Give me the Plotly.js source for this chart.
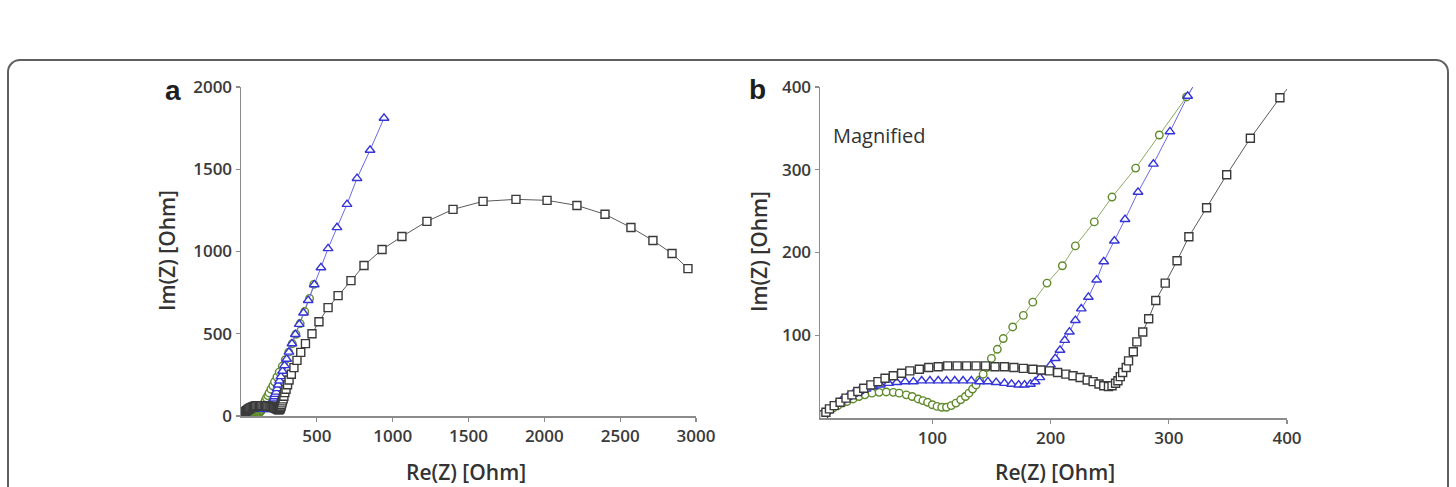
<!DOCTYPE html>
<html>
<head>
<meta charset="utf-8">
<script src="https://cdn.plot.ly/plotly-3.0.1.min.js"></script>
<style>
  html, body { margin: 0; padding: 0; background: #fff; }
  #wrap { position: relative; width: 1456px; height: 487px; overflow: hidden; }
  #chart { position: absolute; left: 0; top: 0; width: 1456px; height: 487px; }
  #frame {
    position: absolute; left: 7px; top: 59px; width: 1438px; height: 520px;
    border: 2px solid #5f5f5f; border-radius: 13px; pointer-events: none;
  }
</style>
</head>
<body>
<div id="wrap">
  <div id="chart"></div>
  <div id="frame"></div>
</div>
<script>
// Nyquist data, Re(Z) / Im(Z) in Ohm
const greyRe = [8,10,13,17,22,27,32,37,42,48,54,60,67,74,81,89,97,105,113,121,
  129,137,145,153,161,169,177,185,192,199,206,213,219,225,231,236,241,245,249,252,
  255,257,259,261,264,266,270,273,278,283,289,297,307,317,332,349,369,394,
  425,468,514,574,640,725,811,930,1061,1226,1398,1596,1813,2018,2215,2400,2571,2716,2842,2947];
const greyIm = [4,7,11,15,19,24,28,32,36,40,44,48,51,54,57,59,61,62,63,63,
  63,63,63,62,62,61,60,59,58,57,55,53,51,49,46,44,41,39,38,39,
  42,45,50,55,61,69,80,92,104,120,142,163,190,219,254,294,338,387,
  440,500,573,659,732,823,915,1012,1091,1183,1256,1305,1317,1311,1280,1226,1146,1067,988,896];

const blueRe = [7,9,12,15,19,23,28,33,38,44,50,56,63,70,77,84,91,98,105,112,
  119,126,133,140,147,154,161,167,173,178,183,187,191,195,200,204,208,212,216,221,
  226,232,239,245,254,263,274,287,301,316,336,358,384,412,443,483,527,574,633,699,
  765,851,943];
const blueIm = [3,6,9,13,17,21,25,29,32,35,38,40,42,43,44,44,45,45,45,45,
  45,45,45,44,44,43,42,41,40,40,41,44,49,56,64,72,82,94,104,118,
  132,146,167,189,214,240,273,307,346,389,440,496,558,627,703,799,902,1018,1146,1287,
  1445,1616,1811];

const greenRe = [6,9,12,16,20,24,28,33,38,43,49,55,61,67,72,78,83,88,92,96,
  100,104,108,112,116,120,124,128,131,134,137,140,143,146,150,155,160,168,177,185,
  197,210,221,237,252,272,292,315,338,362,390,420,452,480];
const greenIm = [3,6,9,12,15,18,20,23,26,28,30,31,31.5,31,30,28,26,23,21,19,
  16,14,13,13,15,18,22,26,30,35,40,46,53,61,72,83,96,110,124,140,
  163,184,208,237,267,302,342,388,440,497,562,635,715,800];

const panelAXTicks = [500, 1000, 1500, 2000, 2500, 3000];
const panelAYTicks = [0, 500, 1000, 1500, 2000];
const panelBXTicks = [100, 200, 300, 400];
const panelBYTicks = [100, 200, 300, 400];

const W = 1456, H = 487;
const px = v => v / W;
const py = v => 1 - v / H;

// drawn back to front: green, blue, grey
const styles = [
  {re: greenRe, im: greenIm, color: '#5f8a2a', line: '#8caa62', symbol: 'circle', size: 7.5},
  {re: blueRe, im: blueIm, color: '#3434d8', line: '#6a6ae6', symbol: 'triangle-up', size: 8.5},
  {re: greyRe, im: greyIm, color: '#3a3a3a', line: '#5a5a5a', symbol: 'square', size: 8}
];

const traces = [];
['', '2'].forEach(suffix => {
  styles.forEach(s => {
    traces.push({
      x: s.re, y: s.im, type: 'scatter', mode: 'lines+markers',
      xaxis: 'x' + suffix, yaxis: 'y' + suffix,
      line: {color: s.line, width: 1},
      marker: {symbol: s.symbol, size: s.size, color: '#ffffff',
               line: {color: s.color, width: 1.4}},
      showlegend: false, hoverinfo: 'skip'
    });
  });
});

const axisBase = {
  showline: true, linecolor: '#8c8c8c', linewidth: 1.5,
  ticks: 'outside', ticklen: 4, tickcolor: '#8c8c8c', tickwidth: 1.2,
  showgrid: false, zeroline: false, tickmode: 'array',
  tickfont: {family: 'Open Sans', size: 17, weight: 600, color: '#3a3a3a'},
  fixedrange: true
};

const titleFont = {family: 'Open Sans', size: 21, weight: 600, color: '#333'};

const layout = {
  width: W, height: H,
  margin: {l: 0, r: 0, t: 0, b: 0},
  paper_bgcolor: '#ffffff', plot_bgcolor: '#ffffff',
  xaxis: Object.assign({}, axisBase, {domain: [px(241), px(696)], range: [0, 3000],
    tickvals: panelAXTicks, anchor: 'y'}),
  yaxis: Object.assign({}, axisBase, {domain: [py(416), py(87)], range: [0, 2000],
    tickvals: panelAYTicks, anchor: 'x'}),
  xaxis2: Object.assign({}, axisBase, {domain: [px(820), px(1287)], range: [5, 400],
    tickvals: panelBXTicks, anchor: 'y2'}),
  yaxis2: Object.assign({}, axisBase, {domain: [py(418), py(87)], range: [0, 400],
    tickvals: panelBYTicks, anchor: 'x2'}),
  annotations: [
    {text: '<b>a</b>', x: px(173), y: py(91), xref: 'paper', yref: 'paper', showarrow: false,
     font: {family: 'Liberation Sans', size: 28, color: '#1e1e1e'}, xanchor: 'center', yanchor: 'middle'},
    {text: '<b>b</b>', x: px(757), y: py(90), xref: 'paper', yref: 'paper', showarrow: false,
     font: {family: 'Liberation Sans', size: 28, color: '#1e1e1e'}, xanchor: 'center', yanchor: 'middle'},
    {text: 'Magnified', x: px(831), y: py(136), xref: 'paper', yref: 'paper', showarrow: false,
     font: {family: 'Open Sans', size: 20, color: '#333'}, xanchor: 'left', yanchor: 'middle'},
    {text: 'Im(Z) [Ohm]', x: px(167), y: py(251), xref: 'paper', yref: 'paper', showarrow: false,
     textangle: -90, font: titleFont, xanchor: 'center', yanchor: 'middle'},
    {text: 'Im(Z) [Ohm]', x: px(759), y: py(252), xref: 'paper', yref: 'paper', showarrow: false,
     textangle: -90, font: titleFont, xanchor: 'center', yanchor: 'middle'},
    {text: 'Re(Z) [Ohm]', x: px(466), y: py(472), xref: 'paper', yref: 'paper', showarrow: false,
     font: titleFont, xanchor: 'center', yanchor: 'middle'},
    {text: 'Re(Z) [Ohm]', x: px(1055), y: py(472), xref: 'paper', yref: 'paper', showarrow: false,
     font: titleFont, xanchor: 'center', yanchor: 'middle'}
  ]
};

Plotly.newPlot('chart', traces, layout, {staticPlot: true, displayModeBar: false});
</script>
</body>
</html>
